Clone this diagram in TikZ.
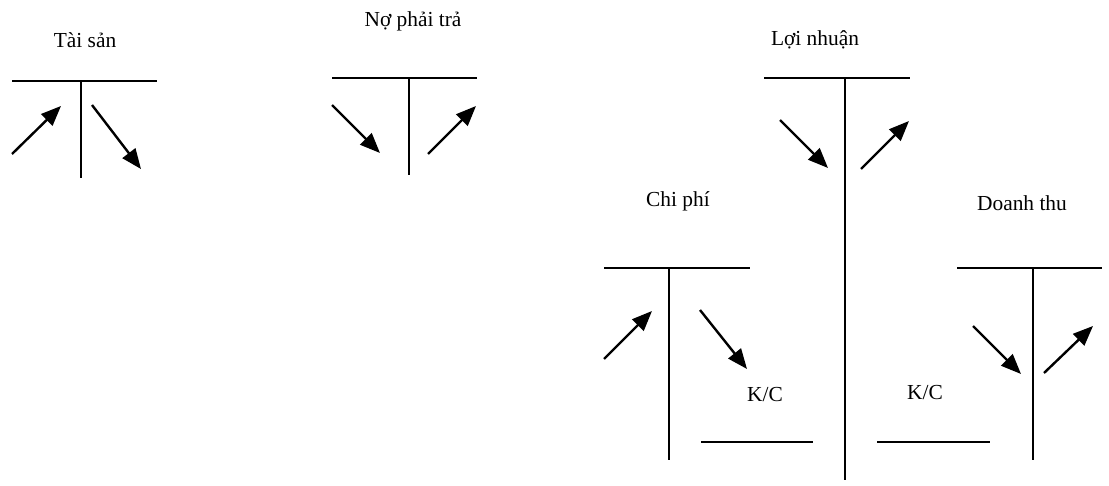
\documentclass[tikz,border=0pt]{standalone}
\usepackage{fontspec}
\setmainfont{Liberation Serif}
\usetikzlibrary{arrows.meta}
\begin{document}
\begin{tikzpicture}[x=0.5pt,y=-0.5pt,
  rule/.style={line width=1.1pt},
  flow/.style={line width=1.2pt,-{Triangle[length=10pt,width=8pt]}},
  title/.style={font=\fontsize{10.7}{12}\selectfont,inner sep=0pt}]
\useasboundingbox (0,0) rectangle (1109,486);

% Tai san
\node[title] (ts) at (85,40) {Tài sản};
\draw[rule] (12,81) -- (157,81);
\draw[rule] (81,81) -- (81,178);
\coordinate (a1s) at (12,154); \coordinate (a1e) at (61,106);
\coordinate (a2s) at (92,105); \coordinate (a2e) at (141,169);
\draw[flow] (a1s) -- (a1e);
\draw[flow] (a2s) -- (a2e);

% No phai tra
\node[title] (npt) at (413,21) {Nợ phải trả};
\draw[rule] (332,78) -- (477,78);
\draw[rule] (409,78) -- (409,175);
\coordinate (a3s) at (332,105); \coordinate (a3e) at (380,153);
\coordinate (a4s) at (428,154); \coordinate (a4e) at (476,106);
\draw[flow] (a3s) -- (a3e);
\draw[flow] (a4s) -- (a4e);

% Loi nhuan
\node[title] (ln) at (815,40) {Lợi nhuận};
\draw[rule] (764,78) -- (910,78);
\draw[rule] (845,78) -- (845,480);
\coordinate (a5s) at (780,120); \coordinate (a5e) at (828,168);
\coordinate (a6s) at (861,169); \coordinate (a6e) at (909,121);
\draw[flow] (a5s) -- (a5e);
\draw[flow] (a6s) -- (a6e);

% Chi phi
\node[title] (cp) at (678,201) {Chi phí};
\draw[rule] (604,268) -- (750,268);
\draw[rule] (669,268) -- (669,460);
\coordinate (a7s) at (604,359); \coordinate (a7e) at (652,311);
\coordinate (a8s) at (700,310); \coordinate (a8e) at (747,369);
\draw[flow] (a7s) -- (a7e);
\draw[flow] (a8s) -- (a8e);
\node[title] (kc1) at (765,395) {K/C};
\draw[rule] (701,442) -- (813,442);

% Doanh thu
\node[title] (dt) at (1022,203) {Doanh thu};
\draw[rule] (957,268) -- (1102,268);
\draw[rule] (1033,268) -- (1033,460);
\coordinate (a9s) at (973,326); \coordinate (a9e) at (1021,374);
\coordinate (a10s) at (1044,373); \coordinate (a10e) at (1093,326);
\draw[flow] (a9s) -- (a9e);
\draw[flow] (a10s) -- (a10e);
\node[title] (kc2) at (925,393) {K/C};
\draw[rule] (877,442) -- (990,442);
\end{tikzpicture}
\end{document}
